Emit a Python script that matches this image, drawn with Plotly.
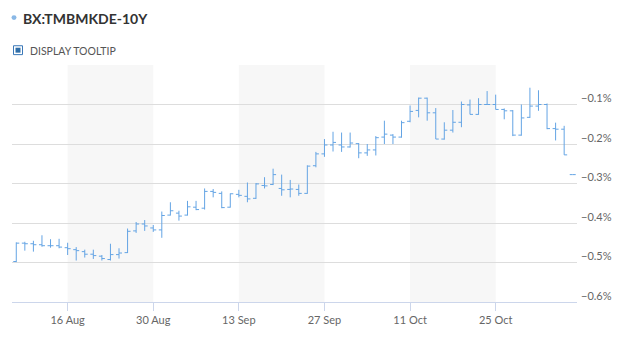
import plotly.graph_objects as go

dates = [
    "2021-08-06",
    "2021-08-09", "2021-08-10", "2021-08-11", "2021-08-12", "2021-08-13",
    "2021-08-16", "2021-08-17", "2021-08-18", "2021-08-19", "2021-08-20",
    "2021-08-23", "2021-08-24", "2021-08-25", "2021-08-26", "2021-08-27",
    "2021-08-30", "2021-08-31", "2021-09-01", "2021-09-02", "2021-09-03",
    "2021-09-06", "2021-09-07", "2021-09-08", "2021-09-09", "2021-09-10",
    "2021-09-13", "2021-09-14", "2021-09-15", "2021-09-16", "2021-09-17",
    "2021-09-20", "2021-09-21", "2021-09-22", "2021-09-23", "2021-09-24",
    "2021-09-27", "2021-09-28", "2021-09-29", "2021-09-30", "2021-10-01",
    "2021-10-04", "2021-10-05", "2021-10-06", "2021-10-07", "2021-10-08",
    "2021-10-11", "2021-10-12", "2021-10-13", "2021-10-14", "2021-10-15",
    "2021-10-18", "2021-10-19", "2021-10-20", "2021-10-21", "2021-10-22",
    "2021-10-25", "2021-10-26", "2021-10-27", "2021-10-28", "2021-10-29",
    "2021-11-01", "2021-11-02", "2021-11-03", "2021-11-04", "2021-11-05",
]

open_ = [
    -0.4975,
    -0.451, -0.4525, -0.455, -0.4575, -0.4575,
    -0.4625, -0.4675, -0.4725, -0.479, -0.484,
    -0.4925, -0.48, -0.475, -0.42, -0.4025,
    -0.4125, -0.4175, -0.38, -0.375, -0.38,
    -0.36, -0.3625, -0.32, -0.325, -0.36,
    -0.3275, -0.3325, -0.3375, -0.305, -0.3025,
    -0.3125, -0.315, -0.315, -0.325, -0.255,
    -0.225, -0.2025, -0.2025, -0.2075, -0.199,
    -0.2225, -0.215, -0.1825, -0.1775, -0.1825,
    -0.1425, -0.115, -0.084, -0.121, -0.1875,
    -0.165, -0.145, -0.101, -0.125, -0.1,
    -0.1, -0.1125, -0.116, -0.1775, -0.1325,
    -0.104, -0.1, -0.161, -0.1625, -0.2775,
]
high = [
    -0.449,
    -0.4475, -0.445, -0.431, -0.441, -0.44,
    -0.45, -0.461, -0.4675, -0.4675, -0.481,
    -0.4525, -0.464, -0.414, -0.3975, -0.3925,
    -0.405, -0.371, -0.3475, -0.369, -0.344,
    -0.344, -0.3125, -0.314, -0.32, -0.325,
    -0.316, -0.2975, -0.299, -0.284, -0.2625,
    -0.2775, -0.291, -0.3025, -0.254, -0.22,
    -0.1875, -0.169, -0.171, -0.171, -0.1975,
    -0.2, -0.18, -0.141, -0.175, -0.141,
    -0.1025, -0.0825, -0.0825, -0.109, -0.145,
    -0.114, -0.0925, -0.0875, -0.084, -0.066,
    -0.075, -0.11, -0.114, -0.1, -0.0575,
    -0.064, -0.0975, -0.146, -0.154, -0.2775,
]
low = [
    -0.499,
    -0.47, -0.4725, -0.46, -0.4625, -0.464,
    -0.481, -0.495, -0.4875, -0.491, -0.495,
    -0.495, -0.49, -0.476, -0.425, -0.42,
    -0.4225, -0.4375, -0.381, -0.394, -0.381,
    -0.3675, -0.366, -0.335, -0.3625, -0.361,
    -0.335, -0.3475, -0.339, -0.3125, -0.304,
    -0.331, -0.335, -0.331, -0.326, -0.259,
    -0.2325, -0.219, -0.22, -0.209, -0.236,
    -0.23, -0.229, -0.2, -0.2, -0.184,
    -0.145, -0.1325, -0.141, -0.1875, -0.189,
    -0.171, -0.1575, -0.125, -0.126, -0.101,
    -0.1125, -0.1375, -0.18, -0.179, -0.134,
    -0.116, -0.1625, -0.191, -0.2275, -0.2775,
]
close = [
    -0.451,
    -0.4525, -0.455, -0.4575, -0.4575, -0.461,
    -0.465, -0.47, -0.479, -0.4825, -0.49,
    -0.48, -0.476, -0.421, -0.4025, -0.4075,
    -0.4175, -0.381, -0.369, -0.3825, -0.359,
    -0.366, -0.32, -0.3225, -0.361, -0.326,
    -0.33, -0.339, -0.301, -0.306, -0.2775,
    -0.316, -0.314, -0.325, -0.256, -0.225,
    -0.2025, -0.196, -0.2075, -0.1975, -0.2225,
    -0.215, -0.184, -0.175, -0.1825, -0.146,
    -0.1175, -0.084, -0.121, -0.1875, -0.165,
    -0.145, -0.1, -0.125, -0.1, -0.1,
    -0.1125, -0.116, -0.1775, -0.134, -0.104,
    -0.1, -0.161, -0.1625, -0.2275, -0.2775,
]

x_ticks = ["2021-08-16", "2021-08-30", "2021-09-13", "2021-09-27", "2021-10-11", "2021-10-25"]
y_ticks = [-0.6, -0.5, -0.4, -0.3, -0.2, -0.1, 0.0]
y_tick_text = ["\u22120.6%", "\u22120.5%", "\u22120.4%", "\u22120.3%", "\u22120.2%", "\u22120.1%", ""]
bands = [("2021-08-16", "2021-08-30"), ("2021-09-13", "2021-09-27"), ("2021-10-11", "2021-10-25")]
title_text = "BX:TMBMKDE-10Y"
tooltip_text = "DISPLAY TOOLTIP"

BLUE = "#64a4e4"
W, H = 633, 338
L, R, T, B = 12, 56, 65, 33
PW, PH = W - L - R, H - T - B


def px(x):
    return (x - L) / PW


def py(y):
    return (H - B - y) / PH


fig = go.Figure()
fig.add_trace(go.Ohlc(
    x=dates, open=open_, high=high, low=low, close=close,
    increasing=dict(line=dict(color=BLUE, width=1)),
    decreasing=dict(line=dict(color=BLUE, width=1)),
    tickwidth=0.35, showlegend=False, hoverinfo="skip",
))

shapes = []
for a, b in bands:
    shapes.append(dict(type="rect", xref="x", yref="paper", x0=a, x1=b, y0=0, y1=1,
                       fillcolor="#f7f7f7", line=dict(width=0), layer="below"))
# title dot
shapes.append(dict(type="circle", xref="paper", yref="paper",
                   x0=px(11.5), x1=px(16.5), y0=py(19.5), y1=py(14.5),
                   fillcolor="#8ab8e6", line=dict(width=0)))
# checkbox
shapes.append(dict(type="rect", xref="paper", yref="paper",
                   x0=px(13.5), x1=px(22.5), y0=py(54.5), y1=py(45.5),
                   fillcolor="white", line=dict(color="#3a78b8", width=1)))
shapes.append(dict(type="rect", xref="paper", yref="paper",
                   x0=px(15.5), x1=px(20.5), y0=py(52.5), y1=py(47.5),
                   fillcolor="#2f6ea8", line=dict(width=0)))

annotations = [
    dict(text=title_text, xref="paper", yref="paper", x=px(21), y=py(18),
         xanchor="left", yanchor="middle", showarrow=False,
         font=dict(family="Lato", size=14, color="#333333", weight="bold")),
    dict(text=tooltip_text, xref="paper", yref="paper", x=px(28), y=py(50.5),
         xanchor="left", yanchor="middle", showarrow=False,
         font=dict(family="Lato", size=10.5, color="#555555")),
]

fig.update_layout(
    width=W, height=H,
    margin=dict(l=L, r=R, t=T, b=B),
    paper_bgcolor="white", plot_bgcolor="white",
    shapes=shapes, annotations=annotations,
    font=dict(family="Lato", size=11, color="#666666"),
    xaxis=dict(
        type="date",
        range=["2021-08-05 12:00", "2021-11-05 12:00"],
        rangebreaks=[dict(bounds=["sat", "mon"])],
        rangeslider=dict(visible=False),
        tickvals=x_ticks, tickformat="%d %b",
        ticks="outside", ticklen=8, tickcolor="#ccd6eb", tickwidth=1,
        showgrid=False, showline=True, linecolor="#ccd6eb", linewidth=1,
        zeroline=False,
        tickfont=dict(family="Lato", size=11, color="#666666"),
    ),
    yaxis=dict(
        side="right", range=[-0.6, 0.0],
        tickvals=y_ticks, ticktext=y_tick_text,
        showgrid=True, gridcolor="#dddddd", gridwidth=1,
        zeroline=False, showline=False, ticks="",
        ticklabelstandoff=3, ticklabelshift=-6,
        tickfont=dict(family="Lato", size=11, color="#666666"),
    ),
)

fig.write_html("out.html")
